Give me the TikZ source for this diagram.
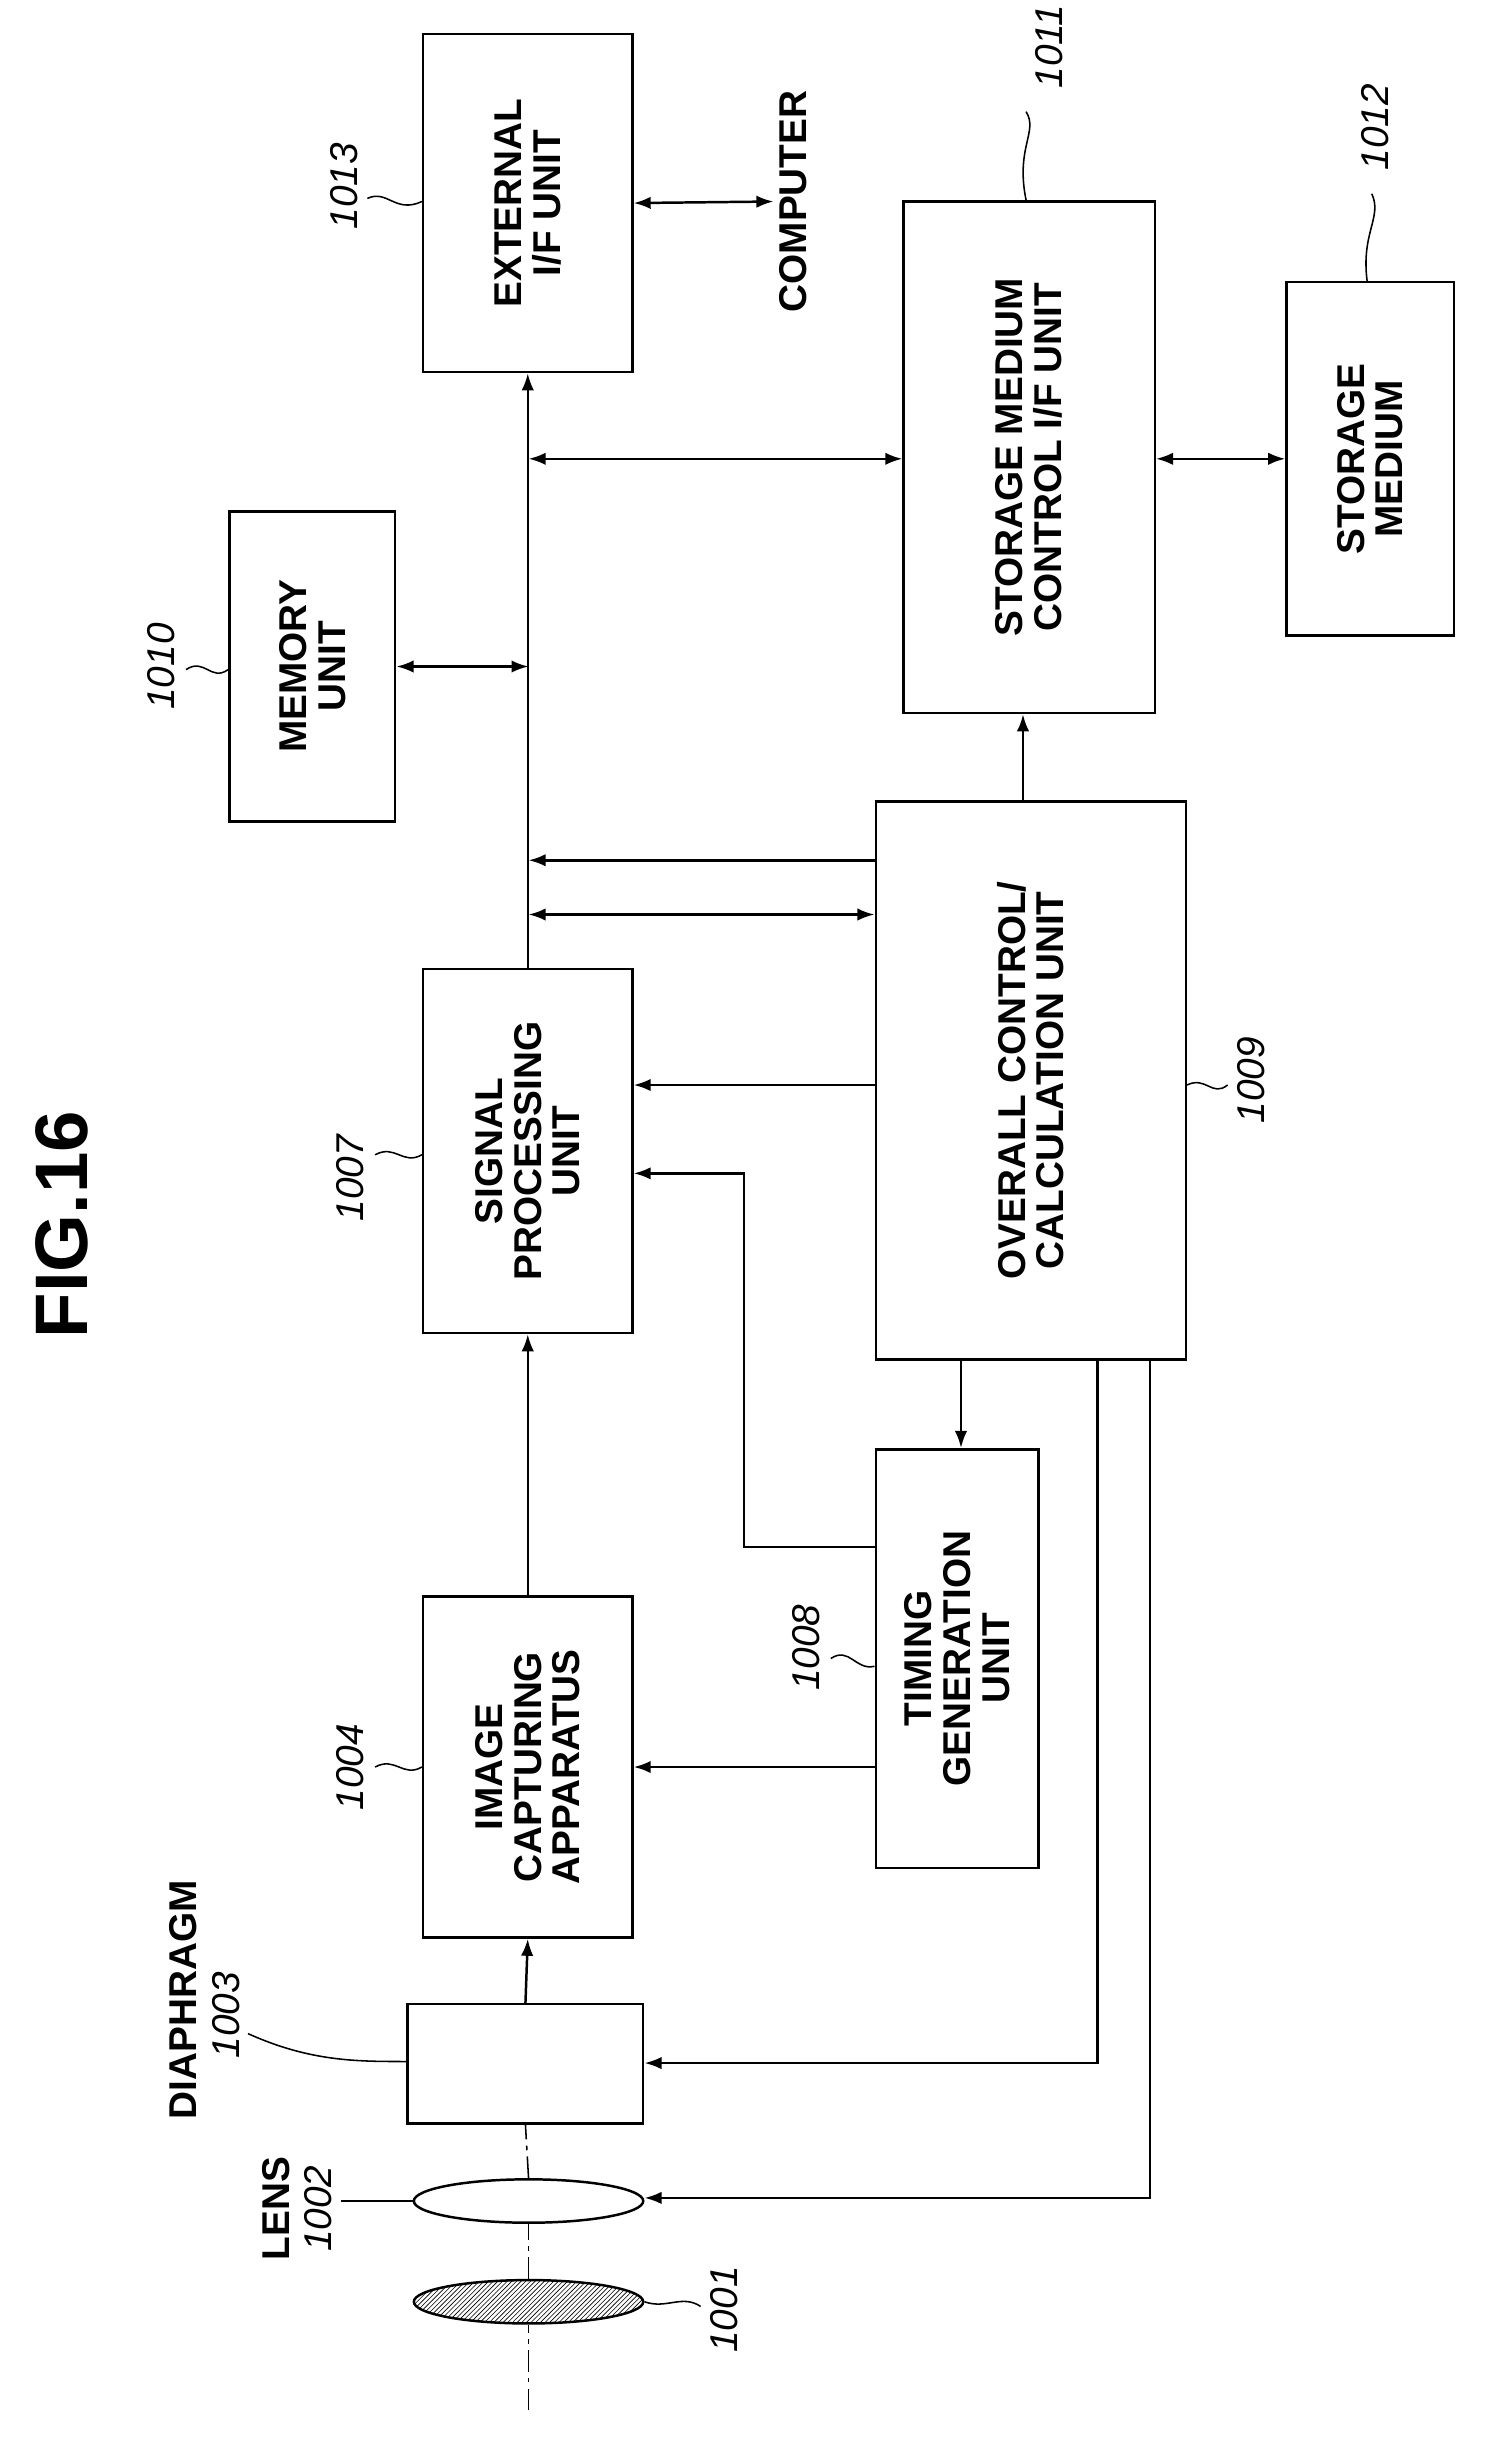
\documentclass[tikz,border=0pt]{standalone}
\usepackage{fontspec}
\setmainfont{Liberation Sans}
\usetikzlibrary{patterns,arrows.meta,shapes.geometric}
\begin{document}
\begin{tikzpicture}[x=1pt,y=-1pt,line width=1.6pt,
 box/.style={draw,minimum width=#1,inner sep=0},
 txt/.style={rotate=90,align=center,font=\fontsize{25}{25}\selectfont\bfseries},
 num/.style={rotate=90,font=\fontsize{25}{25}\selectfont\itshape},
 ar/.style={-{Latex[length=11pt,width=8pt]}},
 dar/.style={{Latex[length=11pt,width=8pt]}-{Latex[length=11pt,width=8pt]}},
 ld/.style={line width=1pt}]
\useasboundingbox (0,0) rectangle (960,1580);
\node[txt,font=\fontsize{48}{48}\selectfont\bfseries] (title) at (40,790) {FIG.16};
% boxes
\node[box=135,minimum height=218] (ext) at (340.5,131) {};
\node[txt] at (ext) {EXTERNAL\\I/F UNIT};
\node[box=107,minimum height=200] (mem) at (201.5,430) {};
\node[txt] at (mem) {MEMORY\\UNIT};
\node[box=162,minimum height=330] (smc) at (664,295) {};
\node[txt] at (smc) {STORAGE MEDIUM\\CONTROL I/F UNIT};
\node[box=108,minimum height=228] (sm) at (884,296) {};
\node[txt] at (sm) {STORAGE\\MEDIUM};
\node[box=135,minimum height=235] (sp) at (340.5,742.5) {};
\node[txt] at (sp) {SIGNAL\\PROCESSING\\UNIT};
\node[box=200,minimum height=360] (oc) at (665,697) {};
\node[txt] at (oc) {OVERALL CONTROL/\\CALCULATION UNIT};
\node[box=135,minimum height=220] (ica) at (340.5,1140) {};
\node[txt] at (ica) {IMAGE\\CAPTURING\\APPARATUS};
\node[box=105,minimum height=270] (tg) at (617.5,1070) {};
\node[txt] at (tg) {TIMING\\GENERATION\\UNIT};
\node[box=152,minimum height=77] (dia) at (339,1331.5) {};
\node[draw,ellipse,minimum width=148,minimum height=28,inner sep=0,fill=white] (l2) at (341,1420) {};
\node[draw,ellipse,minimum width=148,minimum height=28,inner sep=0,pattern=north east lines] (l1) at (341,1485) {};
\node[txt] (comp) at (512,130) {COMPUTER};
% axis
\coordinate (ax) at (341,1555);
\draw[ld,dash pattern=on 14pt off 4pt on 3pt off 4pt] (ax) -- (l1.south);
\draw[ld,dash pattern=on 14pt off 4pt on 3pt off 4pt] (l1.north) -- (l2.south);
\draw[ld,dash pattern=on 14pt off 4pt on 3pt off 4pt] (l2.north) -- (dia.south);
% connectors
\draw[ar] (dia.north) -- (ica.south);
\draw[ar] (ica.north) -- (sp.south);
\draw[ar] (sp.north) -- (ext.south);
\draw[dar] (ext.east) -- (comp.north);
\draw[dar] (mem.east) -- (341,430);
\draw[dar] (341,296) -- (smc.west|-0,296);
\draw[dar] (smc.east|-0,296) -- (sm.west|-0,296);
\draw[ar] (oc.west|-0,555) -- (341,555);
\draw[dar] (341,590) -- (oc.west|-0,590);
\draw[ar] (oc.west|-0,700) -- (sp.east|-0,700);
\draw[ar] (oc.north-|660,0) -- (smc.south-|660,0);
\draw[ar] (oc.south-|620,0) -- (tg.north-|620,0);
\draw[ar] (tg.west|-0,998) -- (480,998) -- (480,757) -- (sp.east|-0,757);
\draw[ar] (tg.west|-0,1140) -- (ica.east|-0,1140);
\draw[ar] (oc.south-|708,0) -- (708,1331) -- (dia.east|-0,1331);
\draw[ar] (oc.south-|742,0) -- (742,1418) -- (l2.east|-0,1418);
% labels
\node[num] (n1013) at (222,120) {1013};
\draw[ld] (237,128) .. controls (250,122) and (255,138) .. (ext.west|-0,130);
\node[num] (n1011) at (677,30) {1011};
\draw[ld] (662,72) .. controls (670,85) and (655,95) .. (smc.north-|662,0);
\node[num] (n1012) at (887,82) {1012};
\draw[ld] (885,125) .. controls (892,140) and (878,150) .. (sm.north-|882,0);
\node[num] (n1010) at (104,430) {1010};
\draw[ld] (120,432) .. controls (132,424) and (136,440) .. (mem.west|-0,432);
\node[num] (n1007) at (226,760) {1007};
\draw[ld] (242,745) .. controls (255,738) and (260,752) .. (sp.west|-0,745);
\node[num] (n1009) at (807,697) {1009};
\draw[ld] (oc.east|-0,700) .. controls (778,694) and (782,708) .. (792,700);
\node[num] (n1008) at (520,1063) {1008};
\draw[ld] (536,1070) .. controls (548,1062) and (552,1078) .. (tg.west|-0,1075);
\node[num] (n1004) at (226,1140) {1004};
\draw[ld] (242,1140) .. controls (255,1133) and (260,1147) .. (ica.west|-0,1140);
\node[txt] (dlab) at (118,1290) {DIAPHRAGM};
\node[num] (n1003) at (146,1300) {1003};
\draw[ld] (160,1312) .. controls (200,1330) and (230,1330) .. (dia.west|-0,1330);
\node[txt] (llab) at (178,1425) {LENS};
\node[num] (n1002) at (205,1425) {1002};
\draw[ld] (220,1420) .. controls (245,1420) and (255,1420) .. (l2.west);
\node[num] (n1001) at (467,1490) {1001};
\draw[ld] (452,1488) .. controls (440,1480) and (430,1490) .. (l1.east);
\end{tikzpicture}
\end{document}
